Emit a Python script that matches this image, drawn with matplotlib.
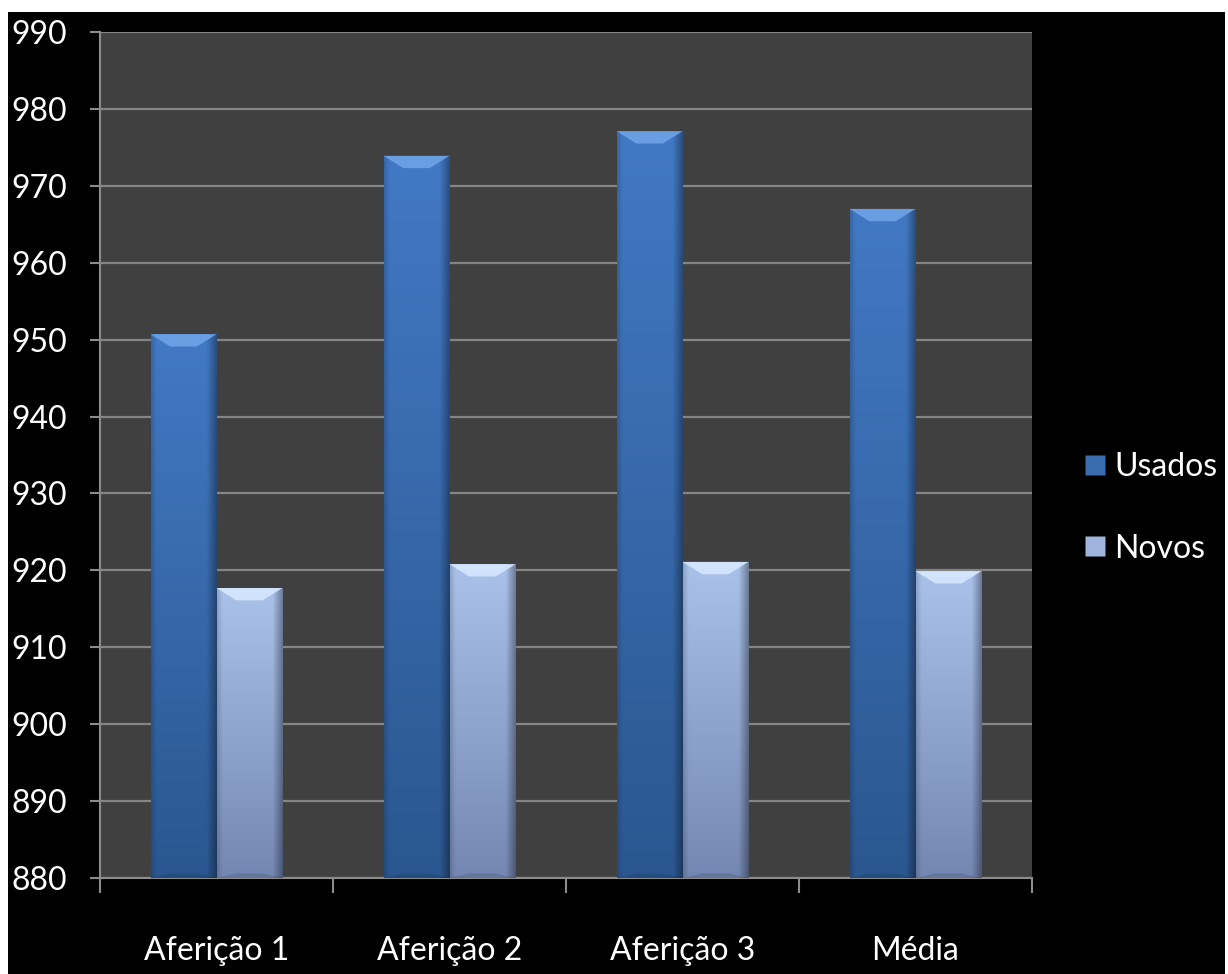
import numpy as np
import matplotlib.pyplot as plt
from matplotlib.patches import Polygon, Rectangle
from matplotlib.colors import LinearSegmentedColormap
from matplotlib.lines import Line2D

# Dados das aferições
categorias = ['Aferição 1', 'Aferição 2', 'Aferição 3', 'Média']
usados = [950.7, 973.9, 977.1, 967.0]
novos = [917.7, 920.8, 921.1, 919.9]
series = ['Usados', 'Novos']

y_min, y_max = 880, 990
y_ticks = list(range(880, 1000, 10))

fonte = ['Lato', 'DejaVu Sans']
tam = 23

cores = {
    'Usados': {'topo': '#4279c4', 'base': '#2b5790', 'bisel': '#6fa3e6', 'legenda': '#3a6cb0'},
    'Novos': {'topo': '#aac2ea', 'base': '#7487b2', 'bisel': '#d6e8ff', 'legenda': '#9fb5de'},
}

fig = plt.figure(figsize=(12.28, 9.74), dpi=100, facecolor='white')
# fundo preto (faixa branca fina nas bordas superior/esquerda/direita)
fig.patches.append(Rectangle((8 / 1228, 0), 1217 / 1228, 962 / 974,
                             transform=fig.transFigure, facecolor='black',
                             edgecolor='none', zorder=-10))

ax = fig.add_axes([100 / 1228, 1 - 878 / 974, 932 / 1228, 846 / 974])
ax.set_facecolor('#404040')

x = np.arange(len(categorias))
largura = 0.283


def pinta_barra(barra, c):
    x0, y0 = barra.get_x(), barra.get_y()
    w, h = barra.get_width(), barra.get_height()
    x1, y1 = x0 + w, y0 + h
    # gradiente vertical com sombra nas laterais
    cmap = LinearSegmentedColormap.from_list('g', [c['base'], c['topo']])
    v = np.linspace(0, 1, 200)[:, None]
    u = np.linspace(0, 1, 60)[None, :]
    lateral = 1 - 0.35 * np.clip((u - 0.85) / 0.15, 0, 1) - 0.15 * np.clip((0.08 - u) / 0.08, 0, 1)
    img = cmap(v * np.ones_like(u))
    img[..., :3] *= lateral[..., None]
    im = ax.imshow(img, extent=[x0, x1, y0, y1], origin='lower', aspect='auto',
                   interpolation='bilinear', zorder=3)
    im.set_clip_path(barra)
    # bisel no topo
    hb = 1.6
    ins = 0.085
    bisel = Polygon([(x0, y1), (x1, y1), (x1 - ins, y1 - hb), (x0 + ins, y1 - hb)],
                    closed=True, facecolor=c['bisel'], edgecolor='none', zorder=4, alpha=0.9)
    ax.add_patch(bisel)
    # bisel discreto na base
    base = Polygon([(x0, y0), (x1, y0), (x1 - ins, y0 + 0.6), (x0 + ins, y0 + 0.6)],
                   closed=True, facecolor='black', edgecolor='none', zorder=4, alpha=0.12)
    ax.add_patch(base)


for nome, valores, desloc in [('Usados', usados, -largura / 2), ('Novos', novos, largura / 2)]:
    barras = ax.bar(x + desloc, np.array(valores) - y_min, largura, bottom=y_min,
                    color='none', edgecolor='none', zorder=3)
    for b in barras:
        pinta_barra(b, cores[nome])

ax.set_xlim(-0.5, len(categorias) - 0.5)
ax.set_ylim(y_min, y_max)
ax.set_yticks(y_ticks)
ax.set_yticklabels([str(t) for t in y_ticks], family=fonte, fontsize=tam, color='white')
ax.grid(axis='y', color='#858585', linewidth=1.6, zorder=1)
ax.set_axisbelow(True)

# rótulos no centro, marcas entre as categorias
ax.set_xticks(x)
ax.set_xticklabels(categorias, family=fonte, fontsize=tam, color='white')
ax.set_xticks(np.arange(-0.5, len(categorias)), minor=True)
ax.tick_params(axis='x', which='major', length=0, pad=42)
ax.tick_params(axis='x', which='minor', length=11, width=1.5, color='#8c8c8c')
ax.tick_params(axis='y', length=7, width=1.5, color='#8c8c8c', pad=17)

for lado in ['top', 'right']:
    ax.spines[lado].set_visible(False)
for lado in ['left', 'bottom']:
    ax.spines[lado].set_color('#8c8c8c')
    ax.spines[lado].set_linewidth(1.5)

handles = [Line2D([], [], marker='s', linestyle='none', markersize=15,
                  markerfacecolor=cores[s]['legenda'], markeredgecolor='none') for s in series]
leg = fig.legend(handles, series, loc='center left', bbox_to_anchor=(1084 / 1228, 1 - 508 / 974),
                 frameon=False, prop={'family': fonte, 'size': tam}, labelspacing=1.6,
                 handletextpad=0.25, handlelength=0.7, borderpad=0, borderaxespad=0)
for t in leg.get_texts():
    t.set_color('white')

fig.savefig('out.png', dpi=100, facecolor=fig.get_facecolor())
